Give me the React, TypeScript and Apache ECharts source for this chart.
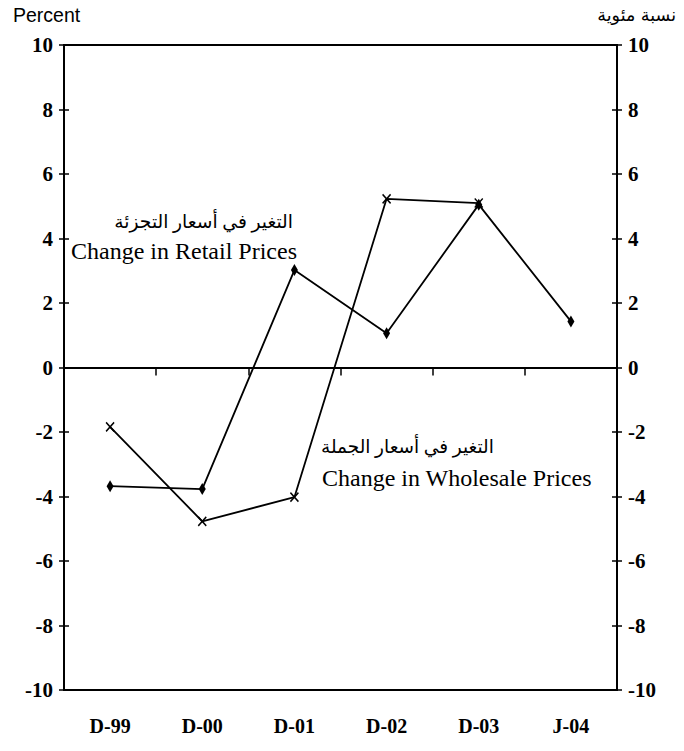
import React, { useEffect, useRef } from "react";
import * as echarts from "echarts";

const categories = ["D-99", "D-00", "D-01", "D-02", "D-03", "J-04"];
const retailPrices = [-3.68, -3.77, 3.02, 1.06, 5.05, 1.43];
const wholesalePrices = [-1.84, -4.77, -4.02, 5.23, 5.1, null];
const yMin = -10;
const yMax = 10;
const yInterval = 2;

const labelFont = "'Liberation Serif', serif";
const textFont = "'Liberation Serif', 'DejaVu Sans', serif";

export default function App() {
  const ref = useRef<HTMLDivElement>(null);
  useEffect(() => {
    if (!ref.current) return;
    const chart = echarts.init(ref.current, undefined, { renderer: "svg" });
    const yBase = {
      type: "value",
      min: yMin,
      max: yMax,
      interval: yInterval,
      splitLine: { show: false },
    };
    const yLabel = {
      color: "#000",
      fontFamily: labelFont,
      fontWeight: "bold",
      fontSize: 21,
      margin: 11,
    };
    chart.setOption({
      animation: false,
      backgroundColor: "#fff",
      grid: {
        left: 64,
        right: 67,
        top: 45,
        bottom: 61,
        show: true,
        borderColor: "#000",
        borderWidth: 2,
        containLabel: false,
      },
      xAxis: [
        {
          type: "category",
          data: categories,
          boundaryGap: true,
          axisLine: { onZero: true, onZeroAxisIndex: 0, lineStyle: { color: "#000", width: 2 } },
          axisTick: { show: true, inside: false, length: 8, lineStyle: { color: "#000", width: 1.5 } },
          axisLabel: { show: false },
          splitLine: { show: false },
        },
        {
          type: "category",
          data: categories,
          position: "bottom",
          boundaryGap: true,
          axisLine: { show: false, onZero: false },
          axisTick: { show: false },
          axisLabel: {
            color: "#000",
            fontFamily: labelFont,
            fontWeight: "bold",
            fontSize: 20,
            margin: 26,
          },
          splitLine: { show: false },
        },
      ],
      yAxis: [
        {
          ...yBase,
          position: "left",
          axisLine: { show: true, lineStyle: { color: "#000", width: 2 } },
          axisTick: { show: true, inside: false, length: 5, lineStyle: { color: "#000", width: 1.5 } },
          axisLabel: yLabel,
        },
        {
          ...yBase,
          position: "right",
          axisLine: { show: true, lineStyle: { color: "#000", width: 2 } },
          axisTick: { show: true, inside: false, length: 5, lineStyle: { color: "#000", width: 1.5 } },
          axisLabel: yLabel,
        },
        {
          ...yBase,
          position: "left",
          axisLine: { show: false },
          axisTick: { show: true, inside: true, length: 5, lineStyle: { color: "#000", width: 1.5 } },
          axisLabel: { show: false },
        },
        {
          ...yBase,
          position: "right",
          axisLine: { show: false },
          axisTick: { show: true, inside: true, length: 5, lineStyle: { color: "#000", width: 1.5 } },
          axisLabel: { show: false },
        },
      ],
      series: [
        {
          name: "Change in Retail Prices",
          type: "line",
          data: retailPrices,
          xAxisIndex: 0,
          yAxisIndex: 0,
          symbol: "diamond",
          symbolSize: [7, 12],
          lineStyle: { color: "#000", width: 1.8 },
          itemStyle: { color: "#000" },
        },
        {
          name: "Change in Wholesale Prices",
          type: "line",
          data: wholesalePrices,
          xAxisIndex: 0,
          yAxisIndex: 0,
          symbol: "path://M0,0L10,11M10,0L0,11",
          symbolSize: [8, 9],
          lineStyle: { color: "#000", width: 1.8 },
          itemStyle: { color: "#000", borderColor: "#000", borderWidth: 1.5 },
        },
      ],
      graphic: [
        {
          type: "text",
          x: 13,
          y: 15,
          style: { text: "Percent", fontFamily: "'Liberation Sans', Arial, sans-serif", fontSize: 19.5, fill: "#000", align: "left", verticalAlign: "middle" },
        },
        {
          type: "text",
          x: 676,
          y: 15,
          style: { text: "نسبة مئوية", fontFamily: "'DejaVu Sans', sans-serif", fontSize: 17.5, fill: "#000", align: "right", verticalAlign: "middle" },
        },
        {
          type: "text",
          x: 293,
          y: 221,
          style: { text: "التغير في أسعار التجزئة", fontFamily: textFont, fontSize: 18.7, fill: "#000", align: "right", verticalAlign: "middle" },
        },
        {
          type: "text",
          x: 297,
          y: 251,
          style: { text: "Change in Retail Prices", fontFamily: textFont, fontSize: 24, fill: "#000", align: "right", verticalAlign: "middle" },
        },
        {
          type: "text",
          x: 321,
          y: 447,
          style: { text: "التغير في أسعار الجملة", fontFamily: textFont, fontSize: 18.5, fill: "#000", align: "left", verticalAlign: "middle" },
        },
        {
          type: "text",
          x: 322,
          y: 478,
          style: { text: "Change in Wholesale Prices", fontFamily: textFont, fontSize: 24, fill: "#000", align: "left", verticalAlign: "middle" },
        },
      ],
    });
    return () => chart.dispose();
  }, []);
  return (
    <div
      ref={ref}
      style={{ position: "absolute", left: 0, top: 0, width: 684, height: 751 }}
    />
  );
}
